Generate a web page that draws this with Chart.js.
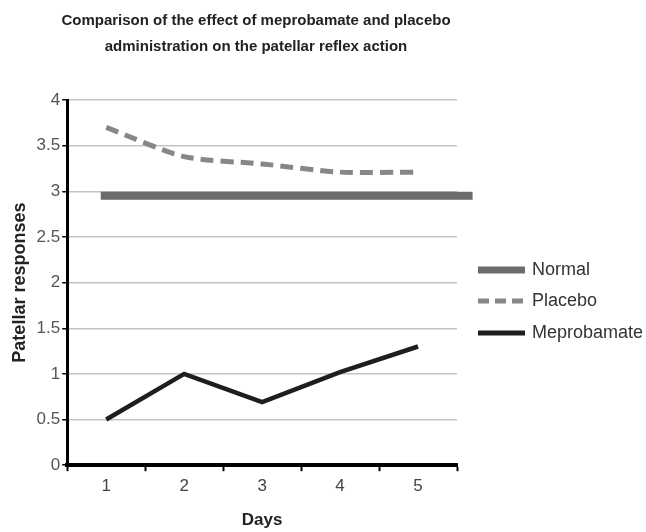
<!DOCTYPE html>
<html><head><meta charset="utf-8">
<script src="https://cdn.jsdelivr.net/npm/chart.js@4"></script>
<style>html,body{margin:0;padding:0;background:#fff}#wrap{width:646px;height:532px}</style>
</head><body><div id="wrap"><canvas id="c" width="646" height="532"></canvas></div>
<script>
const titleLines = ['Comparison of the effect of meprobamate and placebo', 'administration on the patellar reflex action'];
const days = ["1","2","3","4","5"];
const placebo = [3.7, 3.38, 3.3, 3.21, 3.21];
const meprobamate = [0.5, 1.0, 0.69, 1.02, 1.3];
const normalX = [0.93, 5.7];
const normalY = [2.95, 2.95];
const yTicks = [0, 0.5, 1, 1.5, 2, 2.5, 3, 3.5, 4];

const FONT = '"Liberation Sans", Arial, sans-serif';

const titlePlugin = {
  id: 'customTitle',
  afterDraw(chart) {
    const ctx = chart.ctx;
    ctx.save();
    ctx.fillStyle = '#222';
    ctx.font = 'bold 15px ' + FONT;
    ctx.textAlign = 'center';
    ctx.textBaseline = 'middle';
    ctx.fillText(titleLines[0], 256, 21);
    ctx.fillText(titleLines[1], 256, 47);
    ctx.restore();
  }
};

const legendPlugin = {
  id: 'sideLegend',
  afterDraw(chart) {
    const ctx = chart.ctx;
    const x0 = 478, x1 = 525, ys = [270, 301, 333];
    const widths = [7, 5, 5];
    chart.data.datasets.forEach((ds, i) => {
      ctx.save();
      ctx.strokeStyle = ds.borderColor;
      ctx.lineWidth = widths[i];
      ctx.setLineDash(ds.borderDash ? [11, 6] : []);
      ctx.beginPath(); ctx.moveTo(x0, ys[i]); ctx.lineTo(x1, ys[i]); ctx.stroke();
      ctx.setLineDash([]);
      ctx.fillStyle = '#333';
      ctx.font = '18px ' + FONT;
      ctx.textBaseline = 'middle';
      ctx.fillText(ds.label, 532, ys[i]);
      ctx.restore();
    });
  }
};

new Chart(document.getElementById('c'), {
  type: 'line',
  data: {
    labels: days,
    datasets: [
      { label: 'Normal', xAxisID: 'x2', data: normalX.map((x, i) => ({x, y: normalY[i]})),
        borderColor: '#6c6c6c', borderWidth: 8, pointRadius: 0, clip: false, borderCapStyle: 'butt' },
      { label: 'Placebo', xAxisID: 'x', data: placebo, borderColor: '#878787', borderWidth: 5,
        borderDash: [13, 7], pointRadius: 0, tension: 0.25, borderCapStyle: 'butt' },
      { label: 'Meprobamate', xAxisID: 'x', data: meprobamate, borderColor: '#1e1e1e', borderWidth: 4.5,
        pointRadius: 0, tension: 0, borderJoinStyle: 'miter' }
    ]
  },
  options: {
    responsive: false, animation: false,
    layout: { padding: { left: 9, right: 189, bottom: 1, top: 100 } },
    plugins: {
      legend: { display: false }, tooltip: { enabled: false }, title: { display: false }
    },
    scales: {
      x: { type: 'category', offset: true,
        grid: { drawOnChartArea: false, drawTicks: true, tickLength: 6, tickColor: '#000', tickWidth: 2, offset: true },
        border: { color: '#000', width: 4 },
        ticks: { color: '#444', font: { family: FONT, size: 17 }, padding: 5 },
        title: { display: true, text: 'Days', color: '#222', font: { family: FONT, size: 17, weight: 'bold' }, padding: { top: 9, bottom: 0 } }
      },
      x2: { type: 'linear', display: false, min: 0.5, max: 5.5 },
      y: { min: 0, max: 4,
        afterBuildTicks: (s) => { s.ticks = yTicks.map(v => ({value: v})); },
        grid: { color: '#c4c4c4', lineWidth: 1.5, tickLength: 5, tickColor: '#000' },
        border: { color: '#000', width: 3 },
        ticks: { color: '#555', font: { family: FONT, size: 17 }, padding: 2, callback: (v) => String(v) },
        title: { display: true, text: 'Patellar responses', color: '#222', font: { family: FONT, size: 18, weight: 'bold' }, padding: { top: 0, bottom: 4 } }
      }
    }
  },
  plugins: [titlePlugin, legendPlugin]
});
</script></body></html>
